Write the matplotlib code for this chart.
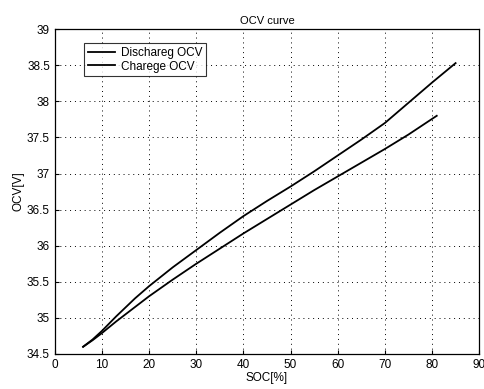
import matplotlib
matplotlib.use("Agg")
import matplotlib.pyplot as plt

soc_dis = [6, 8, 10, 13, 17, 20, 25, 30, 35, 40, 45, 50, 55, 60, 65, 70, 75, 80, 85]
ocv_dis = [34.6, 34.7, 34.82, 35.02, 35.27, 35.44, 35.7, 35.94, 36.18, 36.41, 36.62, 36.82, 37.03, 37.25, 37.47, 37.7, 37.98, 38.26, 38.53]
soc_chg = [6, 8, 10, 13, 17, 20, 25, 30, 35, 40, 45, 50, 55, 60, 65, 70, 75, 81]
ocv_chg = [34.6, 34.69, 34.79, 34.95, 35.15, 35.3, 35.53, 35.75, 35.96, 36.17, 36.37, 36.57, 36.77, 36.96, 37.15, 37.34, 37.54, 37.8]
xticks = [0, 10, 20, 30, 40, 50, 60, 70, 80, 90]
yticks = [34.5, 35, 35.5, 36, 36.5, 37, 37.5, 38, 38.5, 39]
ytick_labels = ["34.5", "35", "35.5", "36", "36.5", "37", "37.5", "38", "38.5", "39"]

plt.rcParams['font.family'] = ['Liberation Sans', 'DejaVu Sans']
fig = plt.figure(figsize=(4.85, 3.89), dpi=100)
ax = fig.add_axes([0.113, 0.090, 0.875, 0.835])
ax.plot(soc_dis, ocv_dis, color='black', lw=1.3, label='Dischareg OCV')
ax.plot(soc_chg, ocv_chg, color='black', lw=1.3, label='Charege OCV')
ax.set_xlim(0, 90)
ax.set_ylim(34.5, 39)
ax.set_xticks(xticks)
ax.set_yticks(yticks)
ax.set_yticklabels(ytick_labels)
ax.grid(True, color='black', linestyle=(0, (1, 4)), lw=0.7)
ax.tick_params(direction='in', labelsize=8.5, length=3, width=0.8)
for s in ax.spines.values():
    s.set_linewidth(0.9)
ax.set_title('OCV curve', fontsize=8, pad=4)
ax.set_xlabel('SOC[%]', fontsize=8.5, labelpad=1)
ax.set_ylabel('OCV[V]', fontsize=8.5, labelpad=2)
leg = ax.legend(loc='upper left', bbox_to_anchor=(0.055, 0.975), fontsize=8.5, frameon=True,
                fancybox=False, edgecolor='black', handlelength=2.3, borderpad=0.3,
                labelspacing=0.15, handletextpad=0.5)
leg.get_frame().set_linewidth(0.8)
fig.savefig('out.png', dpi=100, facecolor='white')
